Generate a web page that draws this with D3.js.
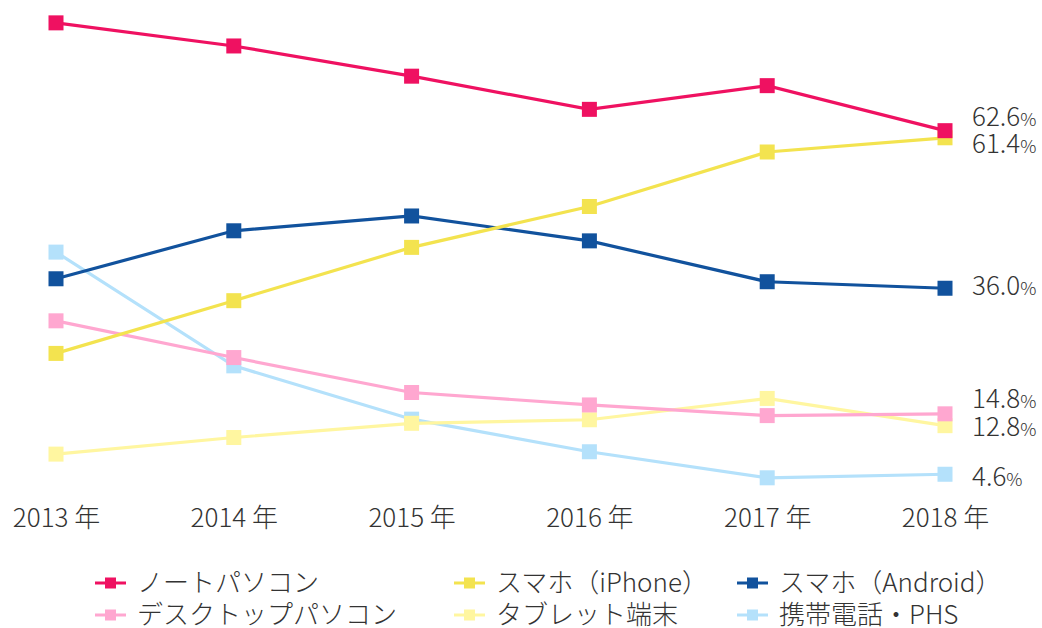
<!doctype html>
<html>
<head>
<meta charset="utf-8"/>
<script src="https://cdnjs.cloudflare.com/ajax/libs/d3/7.8.5/d3.min.js"></script>
<style>
  body { margin: 0; background: #fff; }
  svg text { font-family: "Noto Sans CJK JP", "Noto Sans", sans-serif; fill: #333; }
</style>
</head>
<body>
<svg id="chart" width="1042" height="628"></svg>
<script>
var years = ["2013", "2014", "2015", "2016", "2017", "2018"];

var notePC   = [80.8, 76.9, 71.8, 66.2, 70.2, 62.6];
var desktop  = [30.5, 24.3, 18.4, 16.3, 14.5, 14.8];
var iphone   = [25.0, 33.9, 42.9, 49.8, 59.0, 61.4];
var tablet   = [8.0, 10.8, 13.2, 13.8, 17.4, 12.8];
var android  = [37.6, 45.7, 48.2, 44.0, 37.1, 36.0];
var mobile   = [42.1, 22.9, 13.9, 8.4, 4.0, 4.6];

var names  = ["ノートパソコン", "デスクトップパソコン", "スマホ（iPhone）", "タブレット端末", "スマホ（Android）", "携帯電話・PHS"];
var colors = ["#ef1161", "#ffa7d0", "#f3e34f", "#fff6a0", "#11529d", "#b4e1fb"];
var values = [notePC, desktop, iphone, tablet, android, mobile];

var series = names.map(function (n, i) { return { name: n, color: colors[i], values: values[i] }; });

var svg = d3.select("#chart");

var x = d3.scalePoint().domain(years).range([56, 945]);
var y = d3.scaleLinear().domain([0, 80]).range([501.5, 27.6]);

// x axis, labels only
var xAxis = d3.axisBottom(x)
	.tickSize(0)
	.tickPadding(0)
	.tickFormat(function (d) { return d + " 年"; });

var gx = svg.append("g").attr("transform", "translate(0,517)").call(xAxis);
gx.select(".domain").remove();
gx.selectAll("text")
	.attr("font-size", 26)
	.attr("font-weight", 300)
	.attr("dy", "0.4em")
	.style("font-family", "'Noto Sans CJK JP', sans-serif")
	.attr("fill", "#333");

// draw order: lower ones first
var drawOrder = [5, 3, 1, 4, 2, 0];

var line = d3.line()
	.x(function (d, i) { return x(years[i]); })
	.y(function (d) { return y(d); });

drawOrder.forEach(function (k) {
	var s = series[k];
	var g = svg.append("g");
	g.append("path")
		.attr("d", line(s.values))
		.attr("fill", "none")
		.attr("stroke", s.color)
		.attr("stroke-width", 3.2);
	g.selectAll("rect")
		.data(s.values)
		.enter()
		.append("rect")
		.attr("x", function (d, i) { return x(years[i]) - 7.5; })
		.attr("y", function (d) { return y(d) - 7.5; })
		.attr("width", 15)
		.attr("height", 15)
		.attr("fill", s.color);
});

// end labels
var labelOffsets = { 0: -14, 2: 6, 4: -2, 1: -15, 3: 1, 5: 3 };
series.forEach(function (s, k) {
	var v = s.values[s.values.length - 1];
	var t = svg.append("text")
		.attr("x", 972)
		.attr("y", y(v) + labelOffsets[k])
		.attr("dy", "0.35em")
		.attr("font-size", 26)
		.attr("font-weight", 300);
	t.append("tspan").text(v.toFixed(1));
	t.append("tspan").attr("font-size", 18).text("%");
});

// legend
var legendX = [95, 454, 737];
var legendY = [583, 615];
series.forEach(function (s, k) {
	var col = Math.floor(k / 2), row = k % 2;
	var g = svg.append("g").attr("transform", "translate(" + legendX[col] + "," + legendY[row] + ")");
	g.append("line")
		.attr("x1", 0).attr("x2", 31)
		.attr("y1", 0).attr("y2", 0)
		.attr("stroke", s.color)
		.attr("stroke-width", 3);
	g.append("rect")
		.attr("x", 10).attr("y", -5.5)
		.attr("width", 11).attr("height", 11)
		.attr("fill", s.color);
	g.append("text")
		.attr("x", 42)
		.attr("dy", "0.35em")
		.attr("font-size", 26)
		.attr("font-weight", 300)
		.text(s.name);
});
</script>
</body>
</html>
